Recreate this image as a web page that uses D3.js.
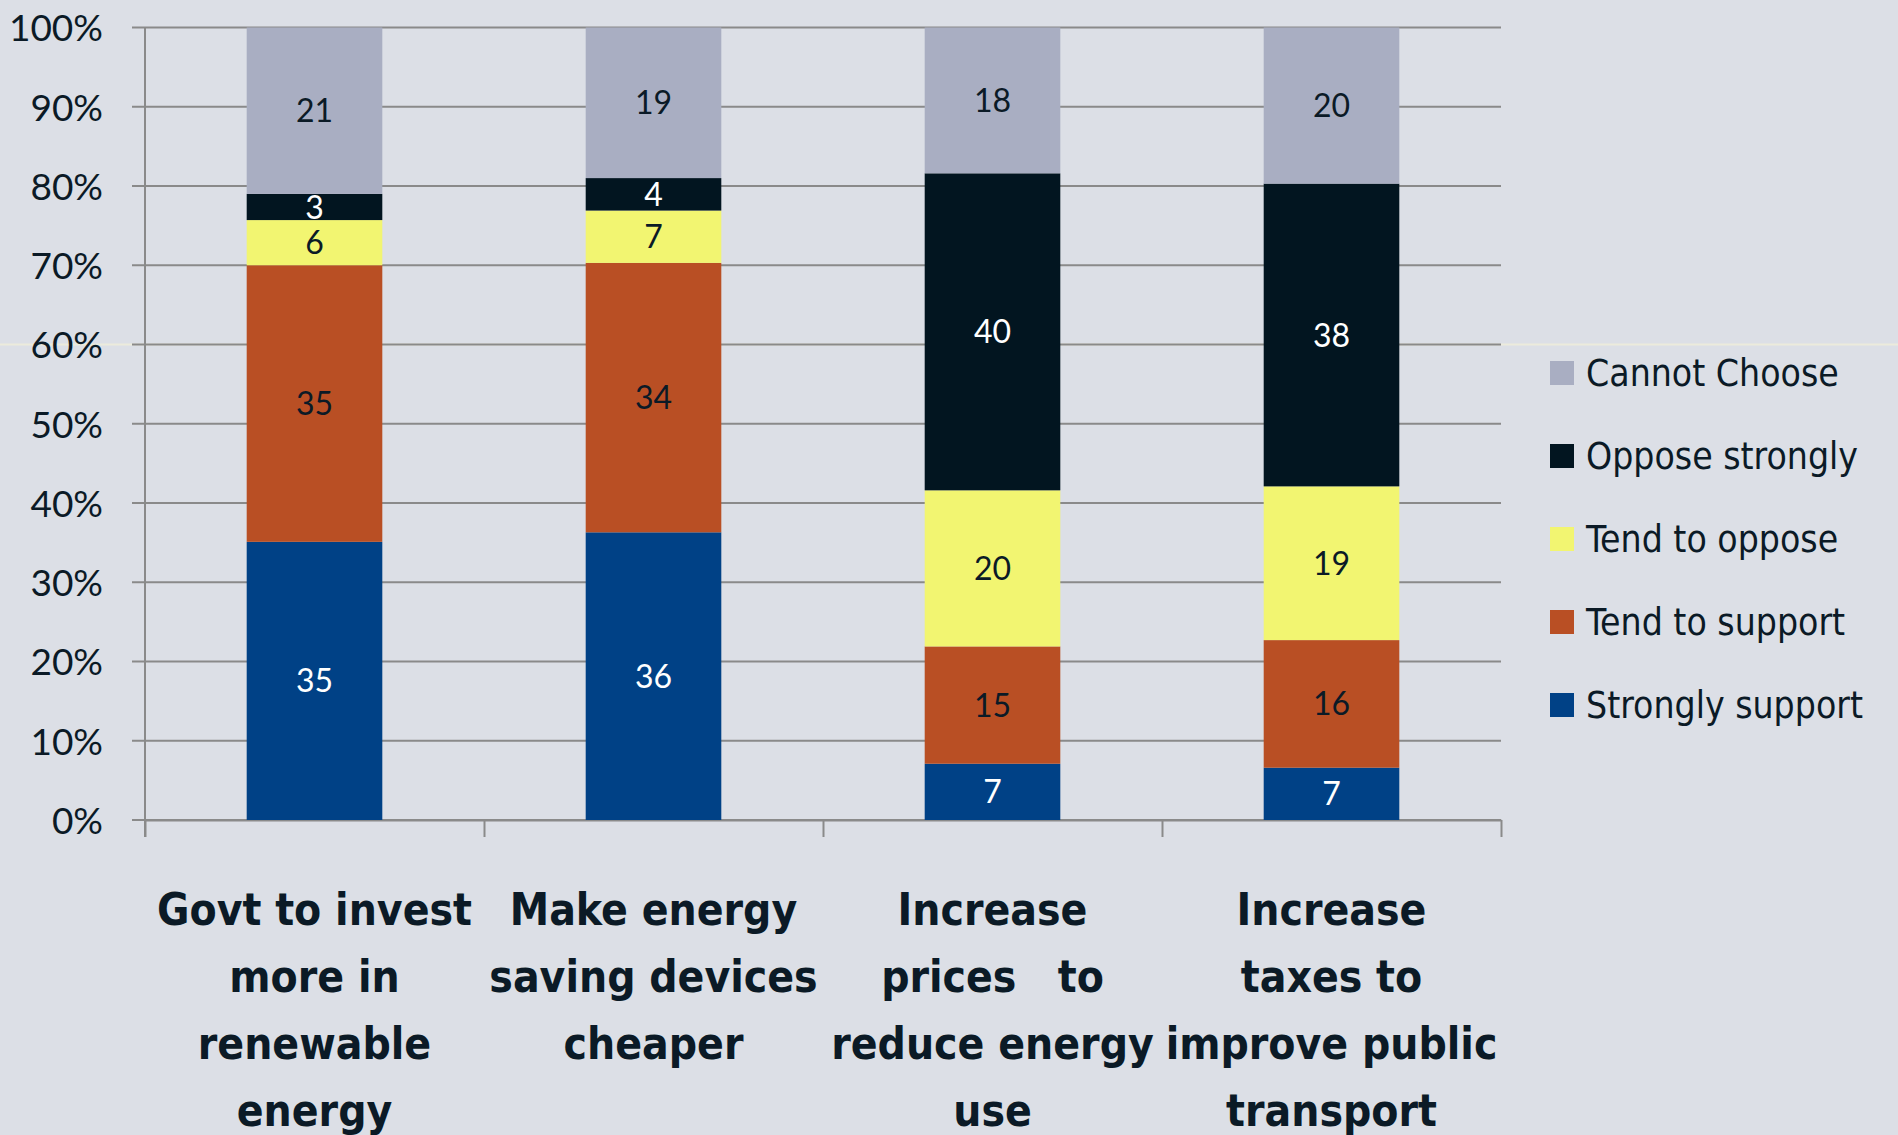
<!DOCTYPE html>
<html>
<head>
  <meta charset="utf-8">
  <title>Energy policy support</title>
  <script src="https://d3js.org/d3.v7.min.js"></script>
  <style>
    body { margin: 0; background: #dcdfe6; }
    svg { display: block; }
    .num { font-family: Lato, "Noto Sans", sans-serif; fill: #0b1a26; }
    .comic { font-family: "Comic Sans MS", "DejaVu Sans Condensed", "DejaVu Sans", sans-serif; fill: #0b1a26; }
  </style>
</head>
<body>
  <div id="chart"></div>
  <script>
    // categories, split into lines the way they show under the bars
    var categories = ["Govt to invest more in renewable energy",
                      "Make energy saving devices cheaper",
                      "Increase prices to reduce energy use",
                      "Increase taxes to improve public transport"];
    var categoryLines = [["Govt to invest", "more in", "renewable", "energy"],
                         ["Make energy", "saving devices", "cheaper"],
                         ["Increase", "prices   to", "reduce energy", "use"],
                         ["Increase", "taxes to", "improve public", "transport"]];

    // series, bottom to top (% of respondents)
    var seriesNames = ["Strongly support", "Tend to support", "Tend to oppose", "Oppose strongly", "Cannot Choose"];
    var strongSupport = [35.1, 36.3, 7.1, 6.6];
    var tendSupport   = [34.9, 34.0, 14.8, 16.1];
    var tendOppose    = [5.7, 6.6, 19.7, 19.4];
    var opposeStrong  = [3.3, 4.1, 40.0, 38.2];
    var cannotChoose  = [21.0, 19.0, 18.4, 19.7];

    var yTicks = [0, 0.1, 0.2, 0.3, 0.4, 0.5, 0.6, 0.7, 0.8, 0.9, 1];

    var colors = ["#004186", "#b94f24", "#f2f571", "#021520", "#a9aec2"];
    var labelColors = ["#ffffff", "#0b1a26", "#0b1a26", "#ffffff", "#0b1a26"];

    var seriesValues = [strongSupport, tendSupport, tendOppose, opposeStrong, cannotChoose];

    var rows = categories.map(function(c, i) {
      var r = { category: c };
      seriesNames.forEach(function(s, j) { r[s] = seriesValues[j][i]; });
      return r;
    });

    var width = 1898, height = 1135;
    var plotLeft = 145, plotRight = 1501, plotTop = 27.5, plotBottom = 820;

    var svg = d3.select("#chart").append("svg")
      .attr("width", width)
      .attr("height", height);

    svg.append("rect").attr("width", width).attr("height", height).attr("fill", "#dcdfe6");

    var x = d3.scaleBand().domain(categories).range([plotLeft, plotRight])
      .paddingInner(0.6).paddingOuter(0.3);
    var xEdge = d3.scaleLinear().domain([0, categories.length]).range([plotLeft, plotRight]);
    var y = d3.scaleLinear().domain([0, 1]).range([plotBottom, plotTop]);

    var stack = d3.stack().keys(seriesNames).offset(d3.stackOffsetExpand);
    var layers = stack(rows);

    // faint line across the slide
    svg.append("line")
      .attr("x1", 0).attr("x2", width)
      .attr("y1", y(0.6)).attr("y2", y(0.6))
      .attr("stroke", "#ecebdc").attr("stroke-width", 2);

    // gridlines
    svg.append("g").selectAll("line")
      .data(yTicks)
      .join("line")
      .attr("x1", plotLeft - 13).attr("x2", plotRight)
      .attr("y1", function(d) { return y(d); })
      .attr("y2", function(d) { return y(d); })
      .attr("stroke", "#8a8a8a").attr("stroke-width", 2);

    // y axis labels
    var yAxis = svg.append("g")
      .attr("transform", "translate(" + plotLeft + ",0)")
      .call(d3.axisLeft(y).tickValues(yTicks).tickFormat(d3.format(".0%")).tickSize(13).tickPadding(29));
    yAxis.select(".domain").remove();
    yAxis.selectAll("line").remove();
    yAxis.selectAll("text")
      .attr("class", "num")
      .attr("font-size", 37)
      .attr("dy", "0.36em");

    // x axis: ticks on the category edges
    var xAxis = svg.append("g")
      .attr("transform", "translate(0," + plotBottom + ")")
      .call(d3.axisBottom(xEdge).ticks(categories.length).tickFormat("").tickSize(17).tickSizeOuter(0));
    xAxis.select(".domain").attr("stroke", "#8a8a8a").attr("stroke-width", 2);
    xAxis.selectAll("line").attr("stroke", "#8a8a8a").attr("stroke-width", 2);

    // vertical axis line
    svg.append("line")
      .attr("x1", plotLeft).attr("x2", plotLeft)
      .attr("y1", plotTop).attr("y2", plotBottom + 17)
      .attr("stroke", "#8a8a8a").attr("stroke-width", 2);

    // bars
    var layer = svg.append("g").selectAll("g")
      .data(layers)
      .join("g")
      .attr("fill", function(d, i) { return colors[i]; });

    layer.selectAll("rect")
      .data(function(d) { return d; })
      .join("rect")
      .attr("x", function(d) { return x(d.data.category); })
      .attr("width", x.bandwidth())
      .attr("y", function(d) { return y(d[1]); })
      .attr("height", function(d) { return y(d[0]) - y(d[1]); });

    // value labels
    var fmt = d3.format(".0f");
    svg.append("g").selectAll("g")
      .data(layers)
      .join("g")
      .attr("fill", function(d, i) { return labelColors[i]; })
      .selectAll("text")
      .data(function(d) { return d.map(function(p) { return { p: p, key: d.key }; }); })
      .join("text")
      .attr("class", "num")
      .style("fill", "inherit")
      .attr("font-size", 32)
      .attr("text-anchor", "middle")
      .attr("x", function(d) { return x(d.p.data.category) + x.bandwidth() / 2; })
      .attr("y", function(d) { return y((d.p[0] + d.p[1]) / 2); })
      .attr("dy", "0.36em")
      .text(function(d) { return fmt(d.p.data[d.key]); });

    // category labels
    var catG = svg.append("g").selectAll("text")
      .data(categories)
      .join("text")
      .attr("class", "comic")
      .attr("font-size", 44)
      .attr("font-weight", "bold")
      .attr("text-anchor", "middle")
      .style("white-space", "pre")
      .attr("x", function(d) { return x(d) + x.bandwidth() / 2; })
      .attr("y", 925);

    catG.selectAll("tspan")
      .data(function(d, i) { return categoryLines[i]; })
      .join("tspan")
      .attr("x", function() { return d3.select(this.parentNode).attr("x"); })
      .attr("dy", function(d, i) { return i === 0 ? 0 : 67; })
      .text(function(d) { return d; });

    // legend, top item is the top series
    var legendOrder = seriesNames.slice().reverse();
    var legend = svg.append("g").selectAll("g")
      .data(legendOrder)
      .join("g")
      .attr("transform", function(d, i) { return "translate(1550," + (373 + i * 83) + ")"; });

    legend.append("rect")
      .attr("x", 0).attr("y", -12)
      .attr("width", 24).attr("height", 24)
      .attr("fill", function(d) { return colors[seriesNames.indexOf(d)]; });

    legend.append("text")
      .attr("class", "comic")
      .attr("x", 36)
      .attr("dy", "0.35em")
      .attr("font-size", 37)
      .text(function(d) { return d; });
  </script>
</body>
</html>
